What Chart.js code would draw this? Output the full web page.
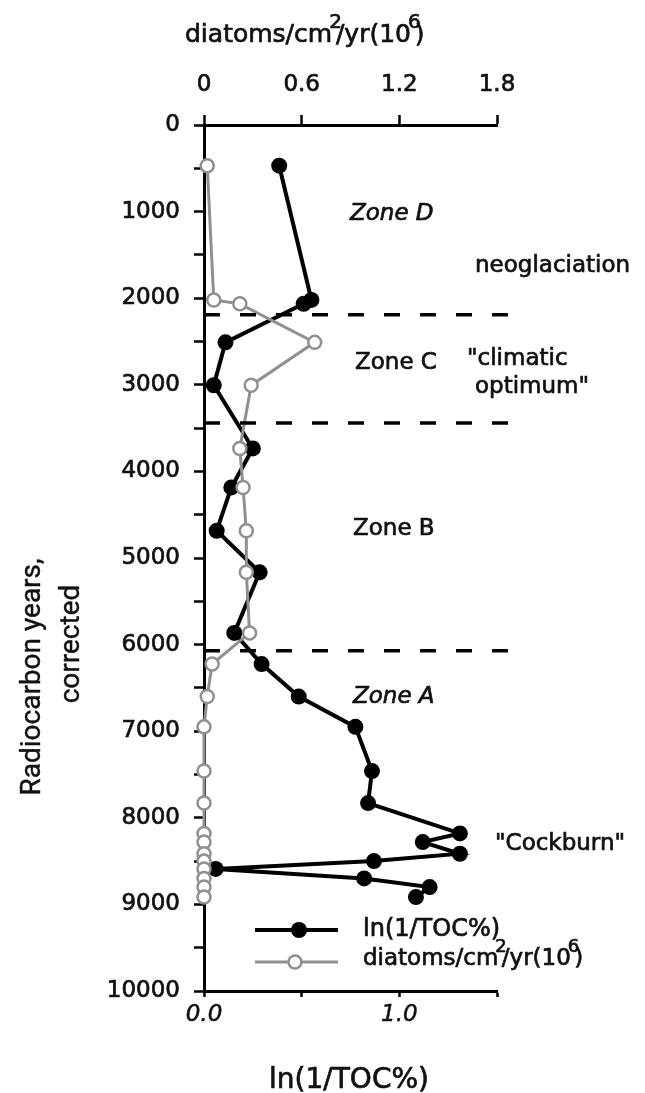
<!DOCTYPE html>
<html>
<head>
<meta charset="utf-8">
<script src="https://cdn.jsdelivr.net/npm/chart.js@4.4.1/dist/chart.umd.min.js"></script>
<style>
  html, body { margin: 0; padding: 0; background: #fff; }
  #wrap { width: 645px; height: 1093px; position: relative; }
</style>
</head>
<body>
<div id="wrap"><canvas id="chart" width="645" height="1093"></canvas></div>
<script>
// sample ages (radiocarbon years, corrected), shared by both profiles
const ages = [470, 2020, 2065, 2510, 3005, 3735, 4185, 4685, 5165, 5865, 6225, 6600, 6950, 7460, 7830, 8180, 8280, 8415, 8500, 8590, 8700, 8800, 8915];
// ln(1/TOC%) - bottom axis
const lnToc = [0.385, 0.55, 0.51, 0.11, 0.05, 0.25, 0.14, 0.065, 0.285, 0.155, 0.295, 0.485, 0.775, 0.86, 0.84, 1.31, 1.12, 1.31, 0.87, 0.06, 0.82, 1.155, 1.085];
// diatoms/cm2/yr (10^6) - top axis
const diatoms = [0.02, 0.06, 0.22, 0.68, 0.29, 0.22, 0.24, 0.26, 0.26, 0.28, 0.05, 0.02, 0, 0, 0, 0, 0, 0, 0, 0, 0, 0, 0];

// zone boundaries (years)
const zoneBounds = [2190, 3440, 6070];

const yTicks = [0, 500, 1000, 1500, 2000, 2500, 3000, 3500, 4000, 4500, 5000, 5500, 6000, 6500, 7000, 7500, 8000, 8500, 9000, 9500, 10000];
const bottomTicks = [0, 0.5, 1.0, 1.5];
const bottomLabels = ['0.0', '', '1.0', ''];
const topTicks = [0, 0.6, 1.2, 1.8];
const topLabels = ['0', '0.6', '1.2', '1.8'];

const FONT = 'DejaVu Sans';
const NARROW = '"Liberation Sans Narrow", "Roboto", sans-serif';
const GREY = '#909090';
const INK = '#111';

// draws text with superscript parts, left aligned at x (baseline y)
function drawRich(ctx, parts, x, y, size) {
    let cx = x;
    parts.forEach(p => {
        if (p.sup) {
            ctx.font = `${Math.round(size * 0.8)}px ${FONT}`;
            ctx.fillText(p.t, cx - 3, y - size * 0.55);
            ctx.strokeText(p.t, cx - 3, y - size * 0.55);
            cx += ctx.measureText(p.t).width * 0.3;
        } else {
            ctx.font = `${size}px ${FONT}`;
            ctx.fillText(p.t, cx, y);
            ctx.strokeText(p.t, cx, y);
            cx += ctx.measureText(p.t).width;
        }
    });
}

function label(ctx, t, x, y) {
    ctx.fillText(t, x, y);
    ctx.strokeText(t, x, y);
}

const annotations = {
    id: 'annotations',
    afterDatasetsDraw(chart) {
        const ctx = chart.ctx;
        const y = chart.scales.y;
        ctx.save();

        // zone boundary dashes
        ctx.strokeStyle = '#000';
        ctx.lineWidth = 3.5;
        ctx.setLineDash([16, 20]);
        zoneBounds.forEach(b => {
            const py = y.getPixelForValue(b);
            ctx.beginPath();
            ctx.moveTo(chart.chartArea.left, py);
            ctx.lineTo(chart.chartArea.right + 12, py);
            ctx.stroke();
        });
        ctx.setLineDash([]);

        ctx.fillStyle = INK;
        ctx.strokeStyle = INK;
        ctx.lineWidth = 0.7;
        ctx.textAlign = 'left';
        ctx.textBaseline = 'alphabetic';

        ctx.font = `italic 23px ${FONT}`;
        label(ctx, 'Zone D', 350, 220);
        label(ctx, 'Zone A', 353, 703);
        ctx.font = `23px ${FONT}`;
        label(ctx, 'Zone C', 355, 369);
        label(ctx, 'Zone B', 353, 535);
        label(ctx, 'neoglaciation', 475, 272);
        label(ctx, '"climatic', 467, 365);
        label(ctx, 'optimum"', 475, 393);
        label(ctx, '"Cockburn"', 495, 850);

        // top axis title
        drawRich(ctx, [{t: 'diatoms/cm'}, {t: '2', sup: true}, {t: '/yr(10'}, {t: '6', sup: true}, {t: ')'}], 185, 42, 25);

        // bottom axis title
        ctx.font = `28px ${FONT}`;
        ctx.textAlign = 'center';
        label(ctx, 'ln(1/TOC%)', 349, 1088);

        // y axis title
        ctx.lineWidth = 0.4;
        ctx.save();
        ctx.font = `28px ${NARROW}`;
        ctx.translate(40, 677);
        ctx.rotate(-Math.PI / 2);
        label(ctx, 'Radiocarbon years,', 0, 0);
        ctx.restore();
        ctx.save();
        ctx.font = `28px ${NARROW}`;
        ctx.translate(79, 644);
        ctx.rotate(-Math.PI / 2);
        label(ctx, 'corrected', 0, 0);
        ctx.restore();

        // legend
        ctx.textAlign = 'left';
        ctx.strokeStyle = '#000';
        ctx.lineWidth = 4;
        ctx.beginPath(); ctx.moveTo(255, 930); ctx.lineTo(338, 930); ctx.stroke();
        ctx.fillStyle = '#000';
        ctx.beginPath(); ctx.arc(299, 930, 8, 0, Math.PI * 2); ctx.fill();
        ctx.strokeStyle = GREY;
        ctx.lineWidth = 3;
        ctx.beginPath(); ctx.moveTo(255, 962); ctx.lineTo(338, 962); ctx.stroke();
        ctx.fillStyle = '#fff';
        ctx.lineWidth = 2.5;
        ctx.beginPath(); ctx.arc(295, 962, 6.5, 0, Math.PI * 2); ctx.fill(); ctx.stroke();

        ctx.fillStyle = INK;
        ctx.strokeStyle = INK;
        ctx.lineWidth = 0.7;
        ctx.font = `24px ${FONT}`;
        label(ctx, 'ln(1/TOC%)', 363, 936);
        drawRich(ctx, [{t: 'diatoms/cm'}, {t: '2', sup: true}, {t: '/yr(10'}, {t: '6', sup: true}, {t: ')'}], 363, 965, 23);

        ctx.restore();
    }
};

new Chart(document.getElementById('chart'), {
    type: 'scatter',
    data: {
        datasets: [
            {
                label: 'ln(1/TOC%)',
                data: ages.map((a, i) => ({ x: lnToc[i], y: a })),
                xAxisID: 'x',
                yAxisID: 'y',
                showLine: true,
                borderColor: '#000',
                borderWidth: 4,
                pointRadius: 8,
                pointBackgroundColor: '#000',
                pointBorderColor: '#000',
                pointBorderWidth: 0,
                order: 2,
                clip: false
            },
            {
                label: 'diatoms/cm2/yr(10^6)',
                data: ages.map((a, i) => ({ x: diatoms[i], y: a })),
                xAxisID: 'x2',
                yAxisID: 'y',
                showLine: true,
                borderColor: GREY,
                borderWidth: 3,
                pointRadius: 6.5,
                pointBackgroundColor: '#fff',
                pointBorderColor: GREY,
                pointBorderWidth: 2.5,
                order: 1,
                clip: false
            }
        ]
    },
    options: {
        responsive: false,
        animation: false,
        devicePixelRatio: 1,
        layout: { padding: { left: 0, right: 148, top: 0, bottom: 0 } },
        plugins: {
            legend: { display: false },
            tooltip: { enabled: false }
        },
        scales: {
            y: {
                type: 'linear',
                position: 'left',
                reverse: true,
                min: 0,
                max: 10000,
                afterFit: s => { s.width = 204; },
                afterBuildTicks: s => { s.ticks = yTicks.map(v => ({ value: v })); },
                ticks: {
                    color: INK,
                    padding: 14,
                    textStrokeColor: INK,
                    textStrokeWidth: 0.7,
                    font: { family: FONT, size: 23 },
                    callback: v => (v % 1000 === 0 ? String(v) : '')
                },
                grid: { drawOnChartArea: false, tickLength: 10, tickWidth: 2.5, tickColor: '#000' },
                border: { color: '#000', width: 3 }
            },
            x: {
                type: 'linear',
                position: 'bottom',
                min: 0,
                max: 1.5,
                afterFit: s => { s.height = 102; },
                afterBuildTicks: s => { s.ticks = bottomTicks.map(v => ({ value: v })); },
                ticks: {
                    color: INK,
                    padding: 4,
                    maxRotation: 0,
                    textStrokeColor: INK,
                    textStrokeWidth: 0.5,
                    font: { family: FONT, size: 23, style: 'italic' },
                    callback: (v, i) => bottomLabels[i]
                },
                grid: { drawOnChartArea: false, tickLength: 6, tickWidth: 2.5, tickColor: '#000' },
                border: { color: '#000', width: 3 }
            },
            x2: {
                type: 'linear',
                position: 'top',
                min: 0,
                max: 1.8,
                afterFit: s => { s.height = 125; },
                afterBuildTicks: s => { s.ticks = topTicks.map(v => ({ value: v })); },
                ticks: {
                    color: INK,
                    padding: 16,
                    maxRotation: 0,
                    textStrokeColor: INK,
                    textStrokeWidth: 0.7,
                    font: { family: FONT, size: 23 },
                    callback: (v, i) => topLabels[i]
                },
                grid: { drawOnChartArea: false, tickLength: 10, tickWidth: 2.5, tickColor: '#000' },
                border: { color: '#000', width: 3 }
            }
        }
    },
    plugins: [annotations]
});
</script>
</body>
</html>
